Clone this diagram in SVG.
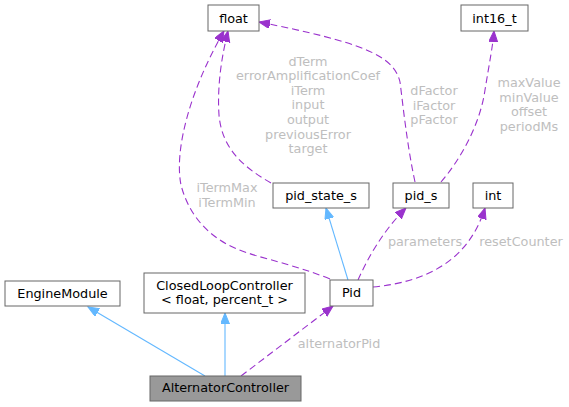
<svg xmlns="http://www.w3.org/2000/svg" width="569" height="407" viewBox="0 0 569 407">
<style>
.n rect{fill:#ffffff;stroke:#666666;stroke-width:1}
.n text{font-family:"DejaVu Sans","Liberation Sans",sans-serif;font-size:12.8px;fill:#000000;text-anchor:middle}
#AlternatorController rect{fill:#999999}
.inh{fill:none;stroke:#63b8ff;stroke-width:1.1;marker-end:url(#ab)}
.use{fill:none;stroke:#9a32cd;stroke-width:1.1;stroke-dasharray:7,4;marker-end:url(#ap)}
.lbl{font-family:"DejaVu Sans","Liberation Sans",sans-serif;font-size:12.8px;fill:#bebebe;text-anchor:middle}
</style>
<defs>
<marker id="ab" markerWidth="12" markerHeight="10" refX="11" refY="4.5" orient="auto" markerUnits="userSpaceOnUse"><path d="M0,0 L11,4.5 L0,9 z" fill="#63b8ff" stroke="#63b8ff" stroke-width="1"/></marker>
<marker id="ap" markerWidth="12" markerHeight="10" refX="11" refY="4.5" orient="auto" markerUnits="userSpaceOnUse"><path d="M0,0 L11,4.5 L0,9 z" fill="#9a32cd" stroke="#9a32cd" stroke-width="1"/></marker>
</defs>
<g id="connectors">
<path class="inh" d="M205,376 L88,307"/>
<path class="inh" d="M225,376 L225,313"/>
<path class="use" d="M241,376 L333,306"/>
<path class="inh" d="M348,280 L326,208"/>
<path class="use" d="M358,280 C368,258 382,232 406,208"/>
<path class="use" d="M373,287 C425,282 468,262 485,208"/>
<path class="use" d="M330,279 C295,265 265,259 248,253 C215,243 190,220 181,185 C174,150 190,90 224,31"/>
<path class="use" d="M271,183 C245,168 222,150 219,115 C217,85 222,55 228,31"/>
<path class="use" d="M415,182 C407,145 403,105 400,82 C394,55 360,42 259,22"/>
<path class="use" d="M441,182 C460,160 480,125 485,90 C489,65 493,45 494,31"/>
<text class="lbl" x="339" y="348">alternatorPid</text>
<text class="lbl" x="425" y="245.5">parameters</text>
<text class="lbl" x="521" y="245.5">resetCounter</text>
<text class="lbl" x="227" y="192">iTermMax</text>
<text class="lbl" x="227" y="206.5">iTermMin</text>
<text class="lbl" x="308" y="65.6">dTerm</text>
<text class="lbl" x="308" y="80.2">errorAmplificationCoef</text>
<text class="lbl" x="308" y="94.8">iTerm</text>
<text class="lbl" x="308" y="109.4">input</text>
<text class="lbl" x="308" y="124">output</text>
<text class="lbl" x="308" y="138.6">previousError</text>
<text class="lbl" x="308" y="153.2">target</text>
<text class="lbl" x="434" y="95">dFactor</text>
<text class="lbl" x="434" y="109.6">iFactor</text>
<text class="lbl" x="434" y="124.2">pFactor</text>
<text class="lbl" x="529" y="87">maxValue</text>
<text class="lbl" x="529" y="101.6">minValue</text>
<text class="lbl" x="529" y="116.2">offset</text>
<text class="lbl" x="529" y="130.8">periodMs</text>
</g>
<g id="float" class="n"><rect x="208" y="5" width="51" height="26"/><text x="233.5" y="22.5">float</text></g>
<g id="int16_t" class="n"><rect x="461" y="5" width="67" height="26"/><text x="494.5" y="22.5">int16_t</text></g>
<g id="pid_state_s" class="n"><rect x="273" y="183" width="96" height="25"/><text x="321" y="200">pid_state_s</text></g>
<g id="pid_s" class="n"><rect x="393" y="183" width="56" height="25"/><text x="421" y="200">pid_s</text></g>
<g id="int" class="n"><rect x="473" y="183" width="40" height="25"/><text x="493" y="200">int</text></g>
<g id="Pid" class="n"><rect x="330" y="280" width="43" height="26"/><text x="351.5" y="297">Pid</text></g>
<g id="EngineModule" class="n"><rect x="5" y="281" width="115" height="25"/><text x="62.5" y="297.5">EngineModule</text></g>
<g id="ClosedLoopController" class="n"><rect x="144" y="273" width="161" height="40"/><text x="224.5" y="289.5">ClosedLoopController</text><text x="224.5" y="303.5">&lt; float, percent_t &gt;</text></g>
<g id="AlternatorController" class="n"><rect x="150" y="376" width="151" height="25"/><text x="225.5" y="392">AlternatorController</text></g>
</svg>
